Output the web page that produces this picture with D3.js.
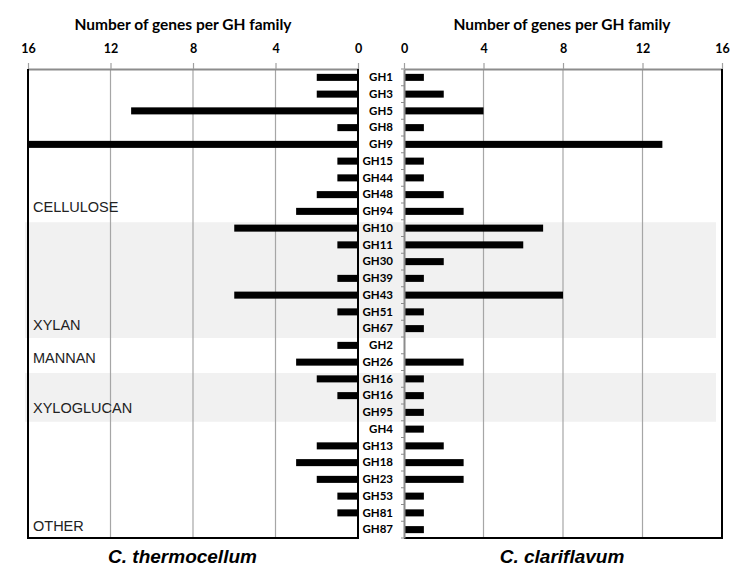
<!DOCTYPE html>
<html><head><meta charset="utf-8">
<script src="https://cdn.jsdelivr.net/npm/d3@7"></script>
<style>body{margin:0;background:#fff}</style>
</head><body>
<svg id="c" width="750" height="574"></svg>
<script>
const families = ["GH1","GH3","GH5","GH8","GH9","GH15","GH44","GH48","GH94",
  "GH10","GH11","GH30","GH39","GH43","GH51","GH67",
  "GH2","GH26","GH16","GH16","GH95",
  "GH4","GH13","GH18","GH23","GH53","GH81","GH87"];
const thermocellum = [2,2,11,1,16,1,1,2,3, 6,1,0,1,6,1,0, 1,3, 2,1,0, 0,2,3,2,1,1,0];
const clariflavum  = [1,2,4,1,13,1,1,2,3, 7,6,2,1,8,1,1, 0,3, 1,1,1, 1,2,3,3,1,1,1];
const xTicks = [0,4,8,12,16];
const groups = [
  {name:"CELLULOSE", first:0, last:8, shade:false},
  {name:"XYLAN", first:9, last:15, shade:true},
  {name:"MANNAN", first:16, last:17, shade:false},
  {name:"XYLOGLUCAN", first:18, last:20, shade:true},
  {name:"OTHER", first:21, last:27, shade:false}
];
const axisTitle = "Number of genes per GH family";
const leftTitle = "C. thermocellum", rightTitle = "C. clariflavum";

const svg = d3.select("#c");
const yTop = 69, yBottom = 538;
const idx = d3.range(families.length);
const y = d3.scaleBand().domain(idx).range([yTop, yBottom]).paddingInner(0.58).paddingOuter(0.29);
const yRow = d3.scaleBand().domain(idx).range([yTop, yBottom]).padding(0);
const xL = d3.scaleLinear().domain([0,16]).range([358, 28]);
const xR = d3.scaleLinear().domain([0,16]).range([404, 722]);

// shaded bands
svg.append("g").selectAll("rect").data(groups.filter(g=>g.shade)).join("rect")
  .attr("x", 25).attr("width", 716-25)
  .attr("y", g => yRow(g.first) + 2.5)
  .attr("height", g => yRow(g.last) + yRow.bandwidth() - yRow(g.first) - 1.5)
  .attr("fill", "#f1f1f1");

// gridlines
function grid(x){
  svg.append("g").selectAll("line").data([4,8,12]).join("line")
    .attr("x1", d=>x(d)).attr("x2", d=>x(d)).attr("y1", yTop).attr("y2", yBottom)
    .attr("stroke", "#a6a6a6").attr("stroke-width", 1.2);
}
grid(xL); grid(xR);

// bars
svg.append("g").selectAll("rect").data(thermocellum).join("rect")
  .attr("x", d => xL(d)).attr("width", d => xL(0) - xL(d))
  .attr("y", (d,i) => y(i)).attr("height", y.bandwidth()).attr("fill", "#000");
svg.append("g").selectAll("rect").data(clariflavum).join("rect")
  .attr("x", xR(0)).attr("width", d => xR(d) - xR(0))
  .attr("y", (d,i) => y(i)).attr("height", y.bandwidth()).attr("fill", "#000");

// top axes
function topAxis(x){
  const g = svg.append("g").attr("transform", `translate(0,${yTop})`)
    .call(d3.axisTop(x).tickValues(xTicks).tickSize(6).tickPadding(10).tickSizeOuter(0));
  g.select(".domain").attr("stroke", "#8c8c8c").attr("stroke-width", 2);
  g.selectAll(".tick line").attr("stroke", "#a0a0a0").attr("stroke-width", 1.2);
  g.selectAll(".tick text").attr("font-family", "Lato, sans-serif").attr("font-weight", "bold")
    .attr("font-size", 12.5).attr("fill", "#000");
}
topAxis(xL); topAxis(xR);

// borders
const bl = svg.append("g").attr("stroke", "#000").attr("stroke-width", 2).attr("fill", "none");
bl.append("path").attr("d", `M${xL(16)},${yTop}V${yBottom}H${xL(0)}V${yTop}`);
bl.append("path").attr("d", `M${xR(0)},${yBottom}H${xR(16)}V${yTop}`);

// category axis (right panel left edge)
const ca = svg.append("g").attr("transform", `translate(${xR(0)},0)`)
  .call(d3.axisLeft(y).tickSize(0).tickPadding(11).tickFormat(i => families[i]));
ca.select(".domain").attr("stroke", "#8c8c8c").attr("stroke-width", 2);
ca.selectAll(".tick text").attr("font-family", "Lato, sans-serif").attr("font-weight", "bold")
  .attr("font-size", 11.5).attr("fill", "#000");
ca.append("g").selectAll("line").data(d3.range(families.length + 1)).join("line")
  .attr("x1", -3).attr("x2", 0)
  .attr("y1", i => yTop + i * yRow.step()).attr("y2", i => yTop + i * yRow.step())
  .attr("stroke", "#8c8c8c").attr("stroke-width", 1);

// group labels
svg.append("g").selectAll("text").data(groups).join("text")
  .attr("x", 33).attr("y", g => yRow(g.last) + yRow.bandwidth() - 7.5)
  .attr("font-family", "'Liberation Sans', Arial, sans-serif").attr("font-size", 14.5)
  .attr("fill", "#222").text(g => g.name);

// axis titles
svg.append("text").attr("x", (xL(0)+xL(16))/2 - 10).attr("y", 30).attr("text-anchor", "middle")
  .attr("font-family", "Lato, sans-serif").attr("font-weight", "bold").attr("font-size", 15.5)
  .text(axisTitle);
svg.append("text").attr("x", (xR(0)+xR(16))/2 - 1).attr("y", 30).attr("text-anchor", "middle")
  .attr("font-family", "Lato, sans-serif").attr("font-weight", "bold").attr("font-size", 15.5)
  .text(axisTitle);

// panel titles
svg.append("text").attr("x", 182.5).attr("y", 563).attr("text-anchor", "middle")
  .attr("font-family", "'Liberation Sans', Arial, sans-serif").attr("font-weight", "bold")
  .attr("font-style", "italic").attr("font-size", 19).text(leftTitle);
svg.append("text").attr("x", 562).attr("y", 563).attr("text-anchor", "middle")
  .attr("font-family", "'Liberation Sans', Arial, sans-serif").attr("font-weight", "bold")
  .attr("font-style", "italic").attr("font-size", 19).text(rightTitle);
</script>
</body></html>
